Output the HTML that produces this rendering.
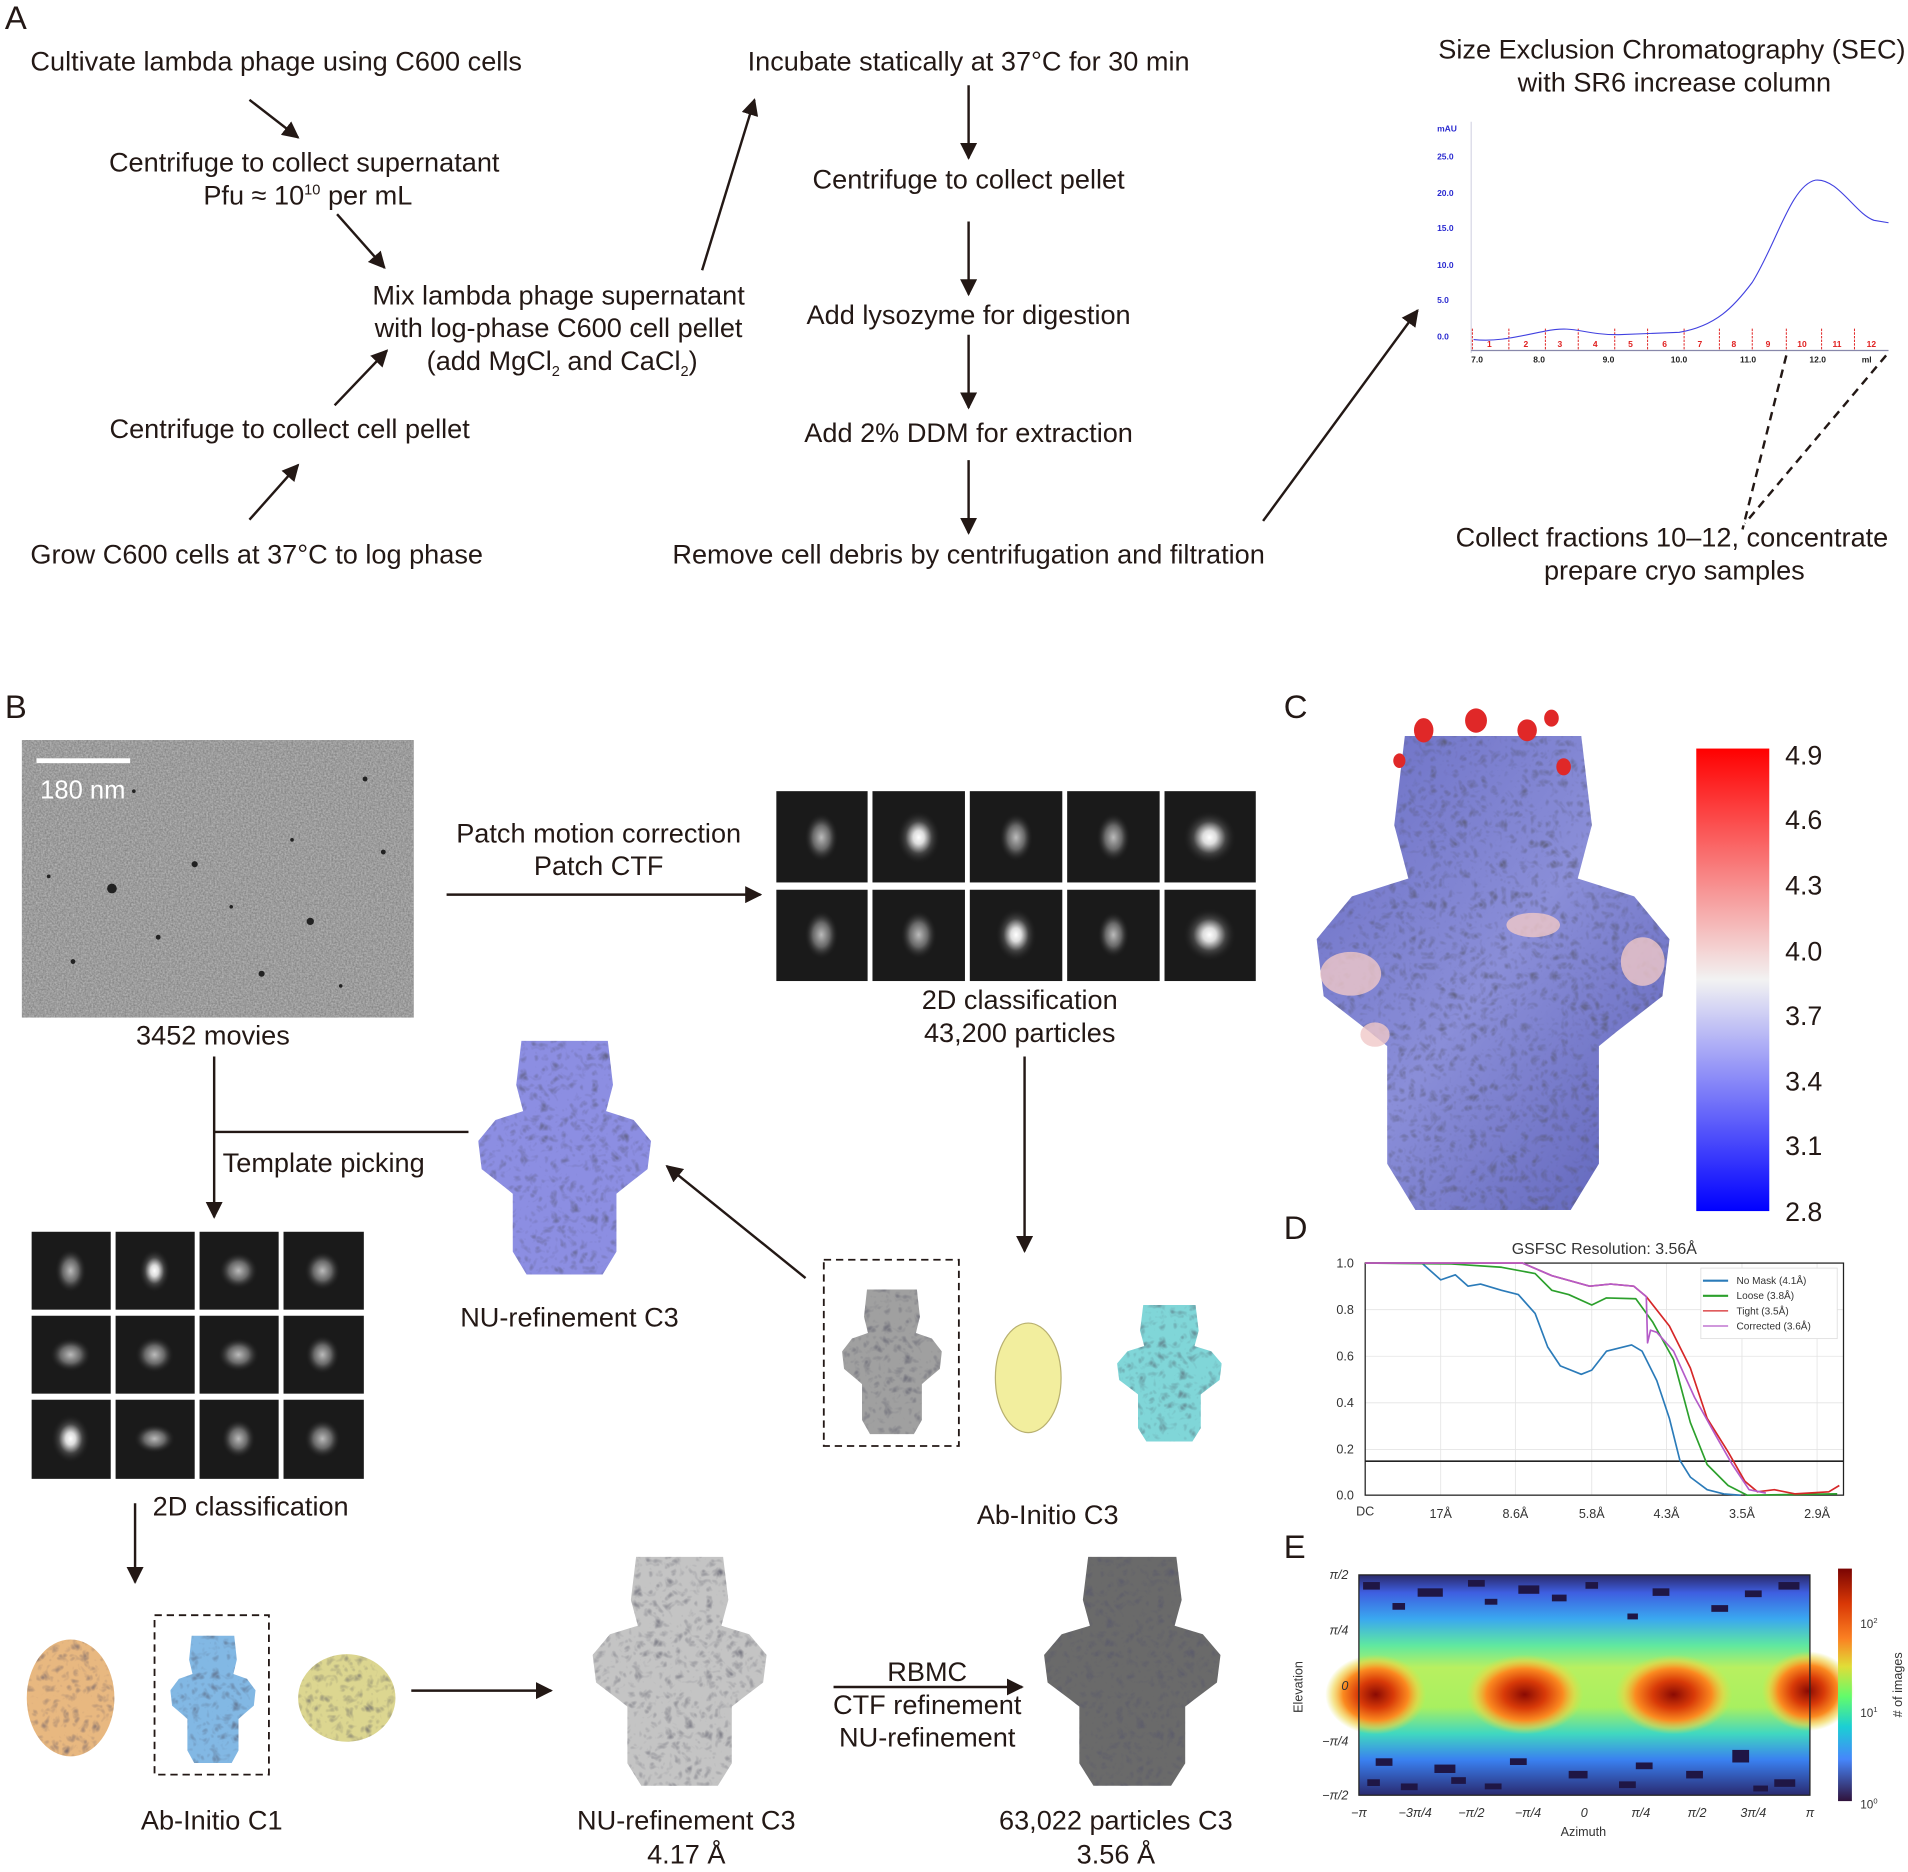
<!DOCTYPE html>
<html><head><meta charset="utf-8"><style>html,body{margin:0;padding:0;background:#fff}svg{display:block}text{font-family:"Liberation Sans",Arial,sans-serif}</style></head>
<body>
<svg width="1908" height="1872" viewBox="0 0 1568 1538" preserveAspectRatio="none" xmlns="http://www.w3.org/2000/svg">
<defs>
<marker id="ah" viewBox="0 0 10 10" refX="9" refY="5" markerWidth="7" markerHeight="7" orient="auto-start-reverse"><path d="M0,0 L10,5 L0,10 Z" fill="#231815"/></marker>
<filter id="noise" x="0" y="0" width="100%" height="100%"><feTurbulence type="fractalNoise" baseFrequency="0.7" numOctaves="3" seed="3"/><feColorMatrix type="matrix" values="0 0 0 0 0.45  0 0 0 0 0.45  0 0 0 0 0.45  1.6 0 0 0 -0.3"/><feComposite in2="SourceGraphic" operator="in"/></filter>
<filter id="mottle" x="0" y="0" width="100%" height="100%"><feTurbulence type="turbulence" baseFrequency="0.12" numOctaves="2" seed="7" result="t"/><feColorMatrix in="t" type="matrix" values="0 0 0 0 0.1  0 0 0 0 0.1  0 0 0 0 0.15  0 0 0 1.4 -0.35" result="d"/><feComposite in="d" in2="SourceGraphic" operator="in" result="dm"/><feMerge><feMergeNode in="SourceGraphic"/><feMergeNode in="dm"/></feMerge></filter>
<symbol id="mol" viewBox="0 0 100 140" preserveAspectRatio="none"><path d="M25,5 L75,5 L78,30 L74,45 L90,50 L100,62 L98,78 L85,88 L80,92 L80,125 L72,138 L28,138 L20,125 L20,92 L15,88 L2,78 L0,62 L10,50 L26,45 L22,30 Z"/></symbol>
<radialGradient id="cls"><stop offset="0" stop-color="#bbb"/><stop offset="0.5" stop-color="#666"/><stop offset="1" stop-color="#1a1a1a" stop-opacity="0"/></radialGradient>
<radialGradient id="clsw"><stop offset="0" stop-color="#fff"/><stop offset="0.25" stop-color="#ddd"/><stop offset="0.6" stop-color="#444"/><stop offset="1" stop-color="#1a1a1a" stop-opacity="0"/></radialGradient>
<linearGradient id="cbar" x1="0" y1="0" x2="0" y2="1"><stop offset="0" stop-color="#ff0000"/><stop offset="0.5" stop-color="#f2f2f2"/><stop offset="1" stop-color="#0000ff"/></linearGradient>
<linearGradient id="turbo" x1="0" y1="0" x2="0" y2="1"><stop offset="0" stop-color="#7a0403"/><stop offset="0.15" stop-color="#d93806"/><stop offset="0.3" stop-color="#fb8022"/><stop offset="0.42" stop-color="#e1dd37"/><stop offset="0.55" stop-color="#62fc6b"/><stop offset="0.68" stop-color="#1bcfd4"/><stop offset="0.82" stop-color="#4686fb"/><stop offset="1" stop-color="#30123b"/></linearGradient>
<linearGradient id="hexbg" x1="0" y1="0" x2="0" y2="1"><stop offset="0" stop-color="#2a2a6a"/><stop offset="0.08" stop-color="#3e5ee0"/><stop offset="0.2" stop-color="#3aa8f0"/><stop offset="0.32" stop-color="#5fe8a0"/><stop offset="0.42" stop-color="#b8f060"/><stop offset="0.6" stop-color="#a8f060"/><stop offset="0.72" stop-color="#40d8c0"/><stop offset="0.84" stop-color="#3a80f0"/><stop offset="1" stop-color="#2a2a70"/></linearGradient>
<radialGradient id="hot"><stop offset="0" stop-color="#8a0a03"/><stop offset="0.35" stop-color="#d83a08"/><stop offset="0.65" stop-color="#fb8a20"/><stop offset="0.85" stop-color="#f0d040" stop-opacity="0.6"/><stop offset="1" stop-color="#e0e040" stop-opacity="0"/></radialGradient>
<linearGradient id="molC" x1="0" y1="0" x2="1" y2="1"><stop offset="0" stop-color="#6a6ec4"/><stop offset="0.5" stop-color="#8a8ed8"/><stop offset="1" stop-color="#5c60b8"/></linearGradient>
</defs>

<g fill="#231815" font-size="22.3" stroke="none">
<text x="4" y="24" font-size="27">A</text>
<text x="25" y="58">Cultivate lambda phage using C600 cells</text>
<text x="250" y="141" text-anchor="middle">Centrifuge to collect supernatant</text>
<text x="253" y="168" text-anchor="middle">Pfu ≈ 10<tspan font-size="12" dy="-8">10</tspan><tspan dy="8"> per mL</tspan></text>
<text x="459" y="250" text-anchor="middle">Mix lambda phage supernatant</text>
<text x="459" y="277" text-anchor="middle">with log-phase C600 cell pellet</text>
<text x="462" y="304" text-anchor="middle">(add MgCl<tspan font-size="12" dy="5">2</tspan><tspan dy="-5"> and CaCl</tspan><tspan font-size="12" dy="5">2</tspan><tspan dy="-5">)</tspan></text>
<text x="90" y="360">Centrifuge to collect cell pellet</text>
<text x="25" y="463">Grow C600 cells at 37°C to log phase</text>
<text x="796" y="58" text-anchor="middle">Incubate statically at 37°C for 30 min</text>
<text x="796" y="155" text-anchor="middle">Centrifuge to collect pellet</text>
<text x="796" y="266" text-anchor="middle">Add lysozyme for digestion</text>
<text x="796" y="363" text-anchor="middle">Add 2% DDM for extraction</text>
<text x="796" y="463" text-anchor="middle">Remove cell debris by centrifugation and filtration</text>
<text x="1374" y="48" text-anchor="middle">Size Exclusion Chromatography (SEC)</text>
<text x="1376" y="75" text-anchor="middle">with SR6 increase column</text>
<text x="1374" y="449" text-anchor="middle">Collect fractions 10–12, concentrate</text>
<text x="1376" y="476" text-anchor="middle">prepare cryo samples</text>
</g>
<g stroke="#231815" stroke-width="2" marker-end="url(#ah)" fill="none">
<line x1="205" y1="82" x2="245" y2="113"/>
<line x1="277" y1="176" x2="316" y2="220"/>
<line x1="275" y1="333" x2="318" y2="288"/>
<line x1="205" y1="427" x2="245" y2="382"/>
<line x1="577" y1="222" x2="620" y2="82"/>
<line x1="796" y1="70" x2="796" y2="130"/>
<line x1="796" y1="182" x2="796" y2="242"/>
<line x1="796" y1="275" x2="796" y2="335"/>
<line x1="796" y1="378" x2="796" y2="438"/>
<line x1="1038" y1="428" x2="1165" y2="255"/>
</g>
<g font-size="7" font-weight="bold">
<line x1="1209" y1="100" x2="1209" y2="290" stroke="#ccd" stroke-width="0.8"/>
<g fill="#2a2ad0"><text x="1181" y="108">mAU</text><text x="1181" y="131">25.0</text><text x="1181" y="161">20.0</text><text x="1181" y="190">15.0</text><text x="1181" y="220">10.0</text><text x="1181" y="249">5.0</text><text x="1181" y="279">0.0</text></g>
<line x1="1209" y1="288" x2="1552" y2="288" stroke="#88a" stroke-width="1"/>
<g fill="#222"><text x="1209" y="298">7.0</text><text x="1260" y="298">8.0</text><text x="1317" y="298">9.0</text><text x="1373" y="298">10.0</text><text x="1430" y="298">11.0</text><text x="1487" y="298">12.0</text><text x="1530" y="298">ml</text></g>
<g stroke="#e02020" stroke-width="0.8" stroke-dasharray="2,1"><line x1="1210" y1="270" x2="1210" y2="288"/><line x1="1240" y1="270" x2="1240" y2="288"/><line x1="1270" y1="270" x2="1270" y2="288"/><line x1="1297" y1="270" x2="1297" y2="288"/><line x1="1327" y1="270" x2="1327" y2="288"/><line x1="1354" y1="270" x2="1354" y2="288"/><line x1="1384" y1="270" x2="1384" y2="288"/><line x1="1413" y1="270" x2="1413" y2="288"/><line x1="1440" y1="270" x2="1440" y2="288"/><line x1="1468" y1="270" x2="1468" y2="288"/><line x1="1497" y1="270" x2="1497" y2="288"/><line x1="1524" y1="270" x2="1524" y2="288"/></g>
<g fill="#e02020"><text x="1222" y="285">1</text><text x="1252" y="285">2</text><text x="1280" y="285">3</text><text x="1309" y="285">4</text><text x="1338" y="285">5</text><text x="1366" y="285">6</text><text x="1395" y="285">7</text><text x="1423" y="285">8</text><text x="1451" y="285">9</text><text x="1477" y="285">10</text><text x="1506" y="285">11</text><text x="1534" y="285">12</text></g>
<path d="M1211,279 C1230,281 1245,277 1270,272 S1300,275 1330,275 L1380,273 C1410,268 1425,252 1440,232 C1460,200 1472,152 1492,148 C1510,146 1525,176 1540,181 L1552,183" fill="none" stroke="#4040e0" stroke-width="0.9"/>
</g>
<g stroke="#231815" stroke-width="2" stroke-dasharray="7,5"><line x1="1468" y1="292" x2="1432" y2="435"/><line x1="1550" y1="292" x2="1434" y2="430"/></g>

<g fill="#231815" font-size="22.3">
<text x="4" y="590" font-size="27">B</text>
<text x="175" y="858" text-anchor="middle">3452 movies</text>
<text x="492" y="692" text-anchor="middle">Patch motion correction</text>
<text x="492" y="719" text-anchor="middle">Patch CTF</text>
<text x="838" y="829" text-anchor="middle">2D classification</text>
<text x="838" y="856" text-anchor="middle">43,200 particles</text>
<text x="183" y="963">Template picking</text>
<text x="468" y="1090" text-anchor="middle">NU-refinement C3</text>
<text x="861" y="1252" text-anchor="middle">Ab-Initio C3</text>
<text x="206" y="1245" text-anchor="middle">2D classification</text>
<text x="174" y="1503" text-anchor="middle">Ab-Initio C1</text>
<text x="564" y="1503" text-anchor="middle">NU-refinement C3</text>
<text x="564" y="1531" text-anchor="middle">4.17 Å</text>
<text x="762" y="1381" text-anchor="middle">RBMC</text>
<text x="762" y="1408" text-anchor="middle">CTF refinement</text>
<text x="762" y="1435" text-anchor="middle">NU-refinement</text>
<text x="917" y="1503" text-anchor="middle">63,022 particles C3</text>
<text x="917" y="1531" text-anchor="middle">3.56 Å</text>
</g>
<rect x="18" y="608" width="322" height="228" fill="#858585"/>
<rect x="18" y="608" width="322" height="228" fill="#888" filter="url(#noise)"/>
<g fill="#222"><circle cx="92" cy="730" r="4"/><circle cx="160" cy="710" r="2.5"/><circle cx="255" cy="757" r="3"/><circle cx="60" cy="790" r="2"/><circle cx="300" cy="640" r="2"/><circle cx="215" cy="800" r="2.5"/><circle cx="130" cy="770" r="2"/><circle cx="315" cy="700" r="2"/><circle cx="110" cy="650" r="1.5"/><circle cx="240" cy="690" r="1.5"/><circle cx="190" cy="745" r="1.5"/><circle cx="280" cy="810" r="1.5"/><circle cx="40" cy="720" r="1.5"/></g>
<rect x="30" y="623" width="77" height="4" fill="#fff"/>
<text x="33" y="656" fill="#fff" font-size="21">180 nm</text>
<g stroke="#231815" stroke-width="2" fill="none">
<line x1="367" y1="735" x2="625" y2="735" marker-end="url(#ah)"/>
<line x1="176" y1="868" x2="176" y2="1000" marker-end="url(#ah)"/>
<line x1="176" y1="930" x2="385" y2="930"/>
<line x1="662" y1="1050" x2="548" y2="958" marker-end="url(#ah)"/>
<line x1="842" y1="868" x2="842" y2="1028" marker-end="url(#ah)"/>
<line x1="111" y1="1235" x2="111" y2="1300" marker-end="url(#ah)"/>
<line x1="338" y1="1389" x2="453" y2="1389" marker-end="url(#ah)"/>
<line x1="685" y1="1386" x2="840" y2="1386" marker-end="url(#ah)"/>
</g>
<g>
<rect x="638" y="650" width="75" height="75" fill="#1a1a1a"/><rect x="717" y="650" width="76" height="75" fill="#1a1a1a"/><rect x="797" y="650" width="76" height="75" fill="#1a1a1a"/><rect x="877" y="650" width="76" height="75" fill="#1a1a1a"/><rect x="957" y="650" width="75" height="75" fill="#1a1a1a"/>
<rect x="638" y="731" width="75" height="75" fill="#1a1a1a"/><rect x="717" y="731" width="76" height="75" fill="#1a1a1a"/><rect x="797" y="731" width="76" height="75" fill="#1a1a1a"/><rect x="877" y="731" width="76" height="75" fill="#1a1a1a"/><rect x="957" y="731" width="75" height="75" fill="#1a1a1a"/>
<ellipse cx="675" cy="688" rx="14" ry="20" fill="url(#cls)"/><ellipse cx="755" cy="688" rx="18" ry="22" fill="url(#clsw)"/><ellipse cx="835" cy="688" rx="14" ry="20" fill="url(#cls)"/><ellipse cx="915" cy="688" rx="14" ry="20" fill="url(#cls)"/><circle cx="994" cy="688" r="22" fill="url(#clsw)"/>
<ellipse cx="675" cy="768" rx="14" ry="20" fill="url(#cls)"/><ellipse cx="755" cy="768" rx="15" ry="20" fill="url(#cls)"/><ellipse cx="835" cy="768" rx="17" ry="22" fill="url(#clsw)"/><ellipse cx="915" cy="768" rx="13" ry="19" fill="url(#cls)"/><circle cx="994" cy="768" r="22" fill="url(#clsw)"/>
</g>
<g fill="#1a1a1a">
<rect x="26" y="1012" width="65" height="64"/><rect x="95" y="1012" width="65" height="64"/><rect x="164" y="1012" width="65" height="64"/><rect x="233" y="1012" width="66" height="64"/>
<rect x="26" y="1081" width="65" height="64"/><rect x="95" y="1081" width="65" height="64"/><rect x="164" y="1081" width="65" height="64"/><rect x="233" y="1081" width="66" height="64"/>
<rect x="26" y="1150" width="65" height="65"/><rect x="95" y="1150" width="65" height="65"/><rect x="164" y="1150" width="65" height="65"/><rect x="233" y="1150" width="66" height="65"/>
</g>
<g><ellipse cx="58" cy="1044" rx="13" ry="18" fill="url(#cls)"/><ellipse cx="127" cy="1044" rx="13" ry="18" fill="url(#clsw)"/><ellipse cx="196" cy="1044" rx="16" ry="15" fill="url(#cls)"/><ellipse cx="265" cy="1044" rx="15" ry="16" fill="url(#cls)"/>
<ellipse cx="58" cy="1113" rx="17" ry="14" fill="url(#cls)"/><ellipse cx="127" cy="1113" rx="16" ry="15" fill="url(#cls)"/><ellipse cx="196" cy="1113" rx="17" ry="14" fill="url(#cls)"/><ellipse cx="265" cy="1113" rx="14" ry="16" fill="url(#cls)"/>
<ellipse cx="58" cy="1182" rx="16" ry="20" fill="url(#clsw)"/><ellipse cx="127" cy="1182" rx="17" ry="12" fill="url(#cls)"/><ellipse cx="196" cy="1182" rx="14" ry="16" fill="url(#cls)"/><ellipse cx="265" cy="1182" rx="15" ry="16" fill="url(#cls)"/></g>
<use href="#mol" x="393" y="848" width="142" height="202" fill="#8c8ee2" filter="url(#mottle)"/>
<rect x="677" y="1035" width="111" height="153" fill="none" stroke="#231815" stroke-width="1.5" stroke-dasharray="6,4"/>
<use href="#mol" x="692" y="1055" width="82" height="125" fill="#a0a0a0" filter="url(#mottle)"/>
<ellipse cx="845" cy="1132" rx="27" ry="45" fill="#f2ee9e" stroke="#b8b070" stroke-width="1"/>
<use href="#mol" x="918" y="1068" width="86" height="118" fill="#80d6d8" filter="url(#mottle)"/>
<ellipse cx="58" cy="1395" rx="36" ry="48" fill="#e8b880" filter="url(#mottle)"/>
<rect x="127" y="1327" width="94" height="131" fill="none" stroke="#231815" stroke-width="1.5" stroke-dasharray="6,4"/>
<use href="#mol" x="140" y="1340" width="70" height="110" fill="#82b8e4" filter="url(#mottle)"/>
<ellipse cx="285" cy="1395" rx="40" ry="36" fill="#dcd690" filter="url(#mottle)"/>
<use href="#mol" x="487" y="1272" width="143" height="198" fill="#c4c4c4" filter="url(#mottle)"/>
<use href="#mol" x="858" y="1272" width="145" height="198" fill="#6a6a6a" filter="url(#mottle)"/>

<text x="1055" y="590" font-size="27" fill="#231815">C</text>
<use href="#mol" x="1082" y="590" width="290" height="410" fill="url(#molC)" filter="url(#mottle)"/>
<g fill="#f0c8c8" opacity="0.8"><ellipse cx="1110" cy="800" rx="25" ry="18"/><ellipse cx="1350" cy="790" rx="18" ry="20"/><ellipse cx="1260" cy="760" rx="22" ry="10"/><ellipse cx="1130" cy="850" rx="12" ry="10"/></g>
<g fill="#e02828"><ellipse cx="1170" cy="600" rx="8" ry="10"/><ellipse cx="1213" cy="592" rx="9" ry="10"/><ellipse cx="1255" cy="600" rx="8" ry="9"/><ellipse cx="1285" cy="630" rx="6" ry="7"/><ellipse cx="1150" cy="625" rx="5" ry="6"/><ellipse cx="1275" cy="590" rx="6" ry="7"/></g>
<rect x="1394" y="615" width="60" height="380" fill="url(#cbar)"/>
<g font-size="22" fill="#231815"><text x="1467" y="628">4.9</text><text x="1467" y="681">4.6</text><text x="1467" y="735">4.3</text><text x="1467" y="789">4.0</text><text x="1467" y="842">3.7</text><text x="1467" y="896">3.4</text><text x="1467" y="949">3.1</text><text x="1467" y="1003">2.8</text></g>

<text x="1055" y="1018" font-size="27" fill="#231815">D</text>
<text x="1055" y="1280" font-size="27" fill="#231815">E</text>
<g transform="translate(1027.1,986) scale(0.3448)">
<text x="845" y="128" text-anchor="middle" font-size="38" fill="#333">GSFSC Resolution: 3.56Å</text>
<g stroke="#e4e4e4" stroke-width="2"><line x1="455" y1="150" x2="455" y2="703"/><line x1="633" y1="150" x2="633" y2="703"/><line x1="815" y1="150" x2="815" y2="703"/><line x1="993" y1="150" x2="993" y2="703"/><line x1="1173" y1="150" x2="1173" y2="703"/><line x1="1352" y1="150" x2="1352" y2="703"/><line x1="275" y1="261" x2="1415" y2="261"/><line x1="275" y1="372" x2="1415" y2="372"/><line x1="275" y1="483" x2="1415" y2="483"/><line x1="275" y1="594" x2="1415" y2="594"/></g>
<rect x="275" y="150" width="1140" height="553" fill="none" stroke="#222" stroke-width="3"/>
<line x1="275" y1="622" x2="1415" y2="622" stroke="#222" stroke-width="4"/>
<g font-size="30" fill="#333" text-anchor="end"><text x="248" y="160">1.0</text><text x="248" y="271">0.8</text><text x="248" y="382">0.6</text><text x="248" y="493">0.4</text><text x="248" y="604">0.2</text><text x="248" y="713">0.0</text></g>
<g font-size="30" fill="#333" text-anchor="middle"><text x="275" y="752">DC</text><text x="455" y="757">17Å</text><text x="633" y="757">8.6Å</text><text x="815" y="757">5.8Å</text><text x="993" y="757">4.3Å</text><text x="1173" y="757">3.5Å</text><text x="1352" y="757">2.9Å</text></g>
<g fill="none" stroke-width="4" stroke-linejoin="round">
<path stroke="#2b7bb9" d="M275,150 L410,150 L455,190 L490,178 L520,205 L550,200 L600,215 L640,225 L680,270 L710,350 L740,395 L790,415 L815,405 L850,360 L910,345 L935,360 L970,430 L1000,520 L1025,620 L1050,660 L1090,690 L1130,700 L1170,703"/>
<path stroke="#2ca02c" d="M275,150 L480,152 L600,160 L680,175 L720,215 L760,225 L815,250 L850,233 L920,235 L960,290 L1010,380 L1050,530 L1090,630 L1140,680 L1185,703 L1400,700"/>
<path stroke="#d62728" d="M275,150 L650,150 L720,180 L810,205 L860,200 L915,205 L945,230 L1000,300 L1050,400 L1090,520 L1140,600 L1180,670 L1210,695 L1250,690 L1300,700 L1380,695 L1405,680"/>
<path stroke="#b45bc8" d="M275,150 L650,150 L720,180 L810,205 L860,200 L915,205 L945,230 L948,340 L955,310 L970,315 L1010,360 L1060,470 L1110,560 L1150,630 L1190,690 L1230,698"/>
</g>
<rect x="1075" y="162" width="325" height="168" fill="#fff" stroke="#ddd" stroke-width="2"/>
<g stroke-width="5"><line x1="1080" y1="192" x2="1140" y2="192" stroke="#2b7bb9"/><line x1="1080" y1="228" x2="1140" y2="228" stroke="#2ca02c"/><line x1="1080" y1="264" x2="1140" y2="264" stroke="#d62728" stroke-width="3"/><line x1="1080" y1="300" x2="1140" y2="300" stroke="#b45bc8" stroke-width="3"/></g>
<g font-size="24" fill="#333"><text x="1160" y="200">No Mask (4.1Å)</text><text x="1160" y="236">Loose (3.8Å)</text><text x="1160" y="272">Tight (3.5Å)</text><text x="1160" y="308">Corrected (3.6Å)</text></g>

<rect x="260" y="893" width="1075" height="525" fill="url(#hexbg)"/>
<g fill="url(#hot)"><ellipse cx="300" cy="1178" rx="120" ry="95"/><ellipse cx="655" cy="1178" rx="140" ry="95"/><ellipse cx="1010" cy="1178" rx="140" ry="95"/><ellipse cx="1330" cy="1170" rx="110" ry="95"/></g>
<g fill="#1f1645"><rect x="270" y="910" width="40" height="18"/><rect x="400" y="925" width="60" height="20"/><rect x="520" y="905" width="40" height="16"/><rect x="640" y="918" width="50" height="20"/><rect x="800" y="910" width="30" height="16"/><rect x="960" y="925" width="40" height="18"/><rect x="1100" y="965" width="40" height="16"/><rect x="1260" y="910" width="50" height="18"/><rect x="340" y="960" width="30" height="16"/><rect x="560" y="950" width="30" height="14"/><rect x="900" y="985" width="25" height="14"/><rect x="300" y="1330" width="40" height="18"/><rect x="440" y="1345" width="50" height="20"/><rect x="620" y="1330" width="40" height="16"/><rect x="760" y="1360" width="45" height="18"/><rect x="920" y="1340" width="40" height="16"/><rect x="1150" y="1310" width="40" height="30"/><rect x="1250" y="1380" width="50" height="18"/><rect x="360" y="1390" width="40" height="16"/><rect x="560" y="1390" width="40" height="14"/><rect x="1040" y="1360" width="40" height="18"/><rect x="280" y="1380" width="30" height="16"/><rect x="720" y="940" width="35" height="16"/><rect x="1180" y="930" width="40" height="16"/><rect x="480" y="1375" width="35" height="16"/><rect x="880" y="1385" width="40" height="16"/><rect x="1200" y="1395" width="35" height="14"/></g>
<rect x="260" y="893" width="1075" height="525" fill="none" stroke="#222" stroke-width="3"/>
<g font-size="30" fill="#333" text-anchor="end" font-style="italic"><text x="235" y="903">π/2</text><text x="235" y="1035">π/4</text><text x="235" y="1167">0</text><text x="235" y="1300">−π/4</text><text x="235" y="1428">−π/2</text></g>
<g font-size="30" fill="#333" text-anchor="middle" font-style="italic"><text x="260" y="1470">−π</text><text x="394" y="1470">−3π/4</text><text x="528" y="1470">−π/2</text><text x="663" y="1470">−π/4</text><text x="797" y="1470">0</text><text x="932" y="1470">π/4</text><text x="1066" y="1470">π/2</text><text x="1200" y="1470">3π/4</text><text x="1335" y="1470">π</text></g>
<text x="795" y="1515" font-size="30" fill="#333" text-anchor="middle">Azimuth</text>
<text transform="translate(125,1160) rotate(-90)" font-size="30" fill="#333" text-anchor="middle">Elevation</text>
<rect x="1402" y="878" width="33" height="554" fill="url(#turbo)"/>
<g font-size="28" fill="#333"><text x="1455" y="1020">10<tspan font-size="18" dy="-12">2</tspan></text><text x="1455" y="1232">10<tspan font-size="18" dy="-12">1</tspan></text><text x="1455" y="1450">10<tspan font-size="18" dy="-12">0</tspan></text></g>
<text transform="translate(1555,1155) rotate(-90)" font-size="30" fill="#333" text-anchor="middle"># of images</text>
</g>
</svg>
</body></html>
